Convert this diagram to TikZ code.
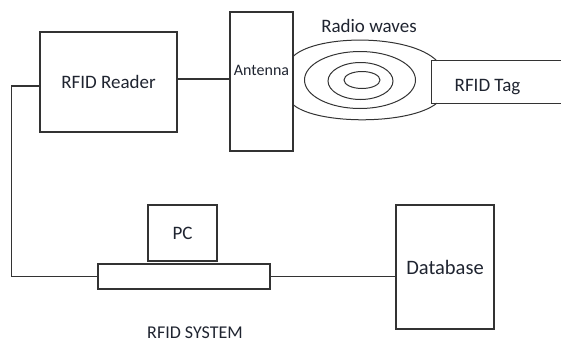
\documentclass[tikz,border=0pt]{standalone}
\usepackage{fontspec}
\setmainfont{Carlito}
\usepackage{tikz}
\usetikzlibrary{positioning, calc}

\begin{document}
\begin{tikzpicture}[
    x=1pt, y=-1pt,
    box/.style={draw=cline, line width=1.1pt, inner sep=0pt, text=ctext,
                font=\fontsize{19}{22}\selectfont},
    lbl/.style={font=\fontsize{19}{22}\selectfont, inner sep=0pt, text=ctext},
    wire/.style={draw=cline, line width=1.1pt},
    wave/.style={draw=cline, line width=1pt},
]
% ---- Colours: dark gray strokes, near-black text ----
\definecolor{cline}{HTML}{333333}
\definecolor{ctext}{HTML}{1F2430}
\useasboundingbox (0, 0) rectangle (561, 343);
% ---- Reader side ----
\node[box, minimum width=137pt, minimum height=100pt] (reader) at (108.5, 82) {RFID Reader};
\node[box, minimum width=63pt, minimum height=139pt,
      label={[lbl, font=\fontsize{16}{18}\selectfont, yshift=11pt]center:Antenna}] (antenna) at (261.5, 81.5) {};
% ---- Tag (open on the right) ----
\node[minimum width=129pt, minimum height=42pt, inner sep=0pt,
      label={[lbl, xshift=-9pt, yshift=-5pt]center:RFID Tag}] (tag) at (496.5, 82) {};
\draw[wire] (tag.north east) -- (tag.north west) -- (tag.south west) -- (tag.south east);
% ---- Back end ----
\node[box, minimum width=69pt, minimum height=56pt] (pc) at (182.5, 233) {PC};
\node[box, minimum width=172pt, minimum height=25pt] (bar) at (184, 276.5) {};
\node[box, minimum width=98pt, minimum height=124pt,
      font=\fontsize{20.5}{23}\selectfont] (db) at (445, 267) {Database};
% ---- Free labels ----
\node[lbl] (waves) at (369, 26) {Radio waves};
\node[lbl, font=\fontsize{18}{20}\selectfont] (system) at (195, 333) {RFID SYSTEM};

% ---- Wires ----
\draw[wire] ([yshift=3pt]reader.east) -- ([yshift=3pt]reader.east -| antenna.west);
\draw[wire] ([yshift=-4pt]reader.west) -- ++(-28, 0) |- (bar.west);
\draw[wire] (bar.east) -- (bar.east -| db.west);

% ---- Radio waves ----
\draw[wave] ([yshift=25.5pt]antenna.east) .. controls (318, 34) and (410, 34) .. ([xshift=5pt]tag.north west);
\draw[wave] ([yshift=-23.5pt]antenna.east) .. controls (318, 125) and (410, 125) .. ([xshift=5pt]tag.south west);
\draw[wave] (360, 80) ellipse [x radius=55.5pt, y radius=28.5pt];
\draw[wave] (360.5, 81) ellipse [x radius=32.5pt, y radius=18.5pt];
\draw[wave] (362, 80) ellipse [x radius=18pt, y radius=8.5pt];
\end{tikzpicture}
\end{document}
